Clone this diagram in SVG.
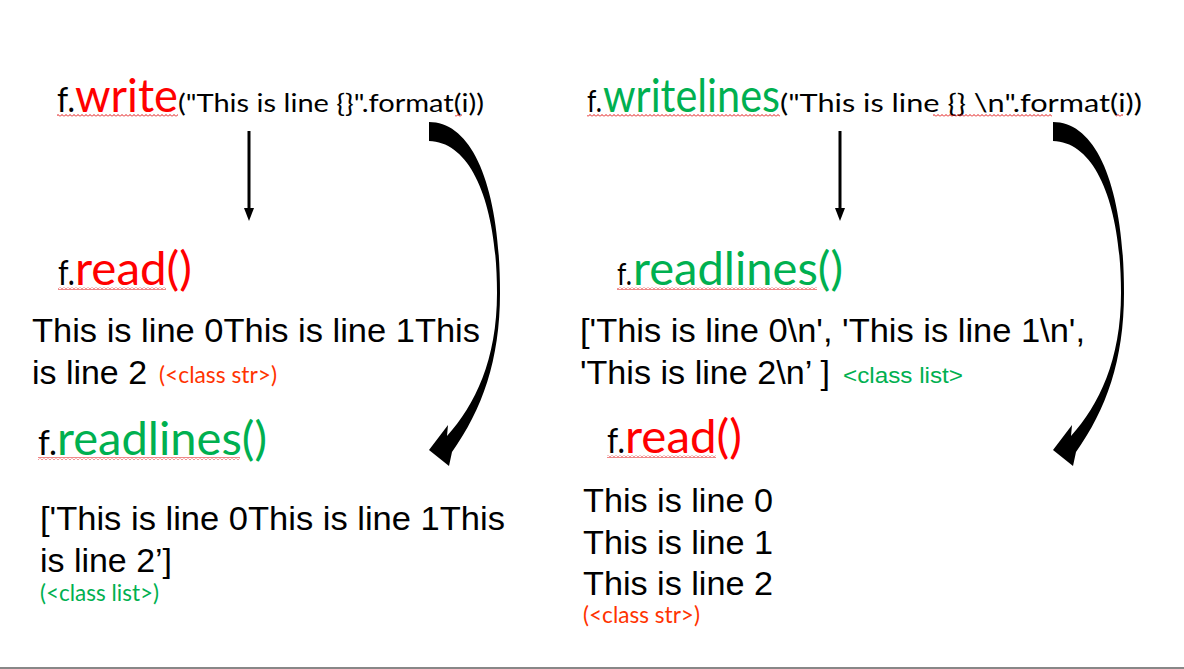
<svg xmlns="http://www.w3.org/2000/svg" width="1184" height="669" viewBox="0 0 1184 669">
<style>
.c{font-family:Lato,"Open Sans","Liberation Sans",sans-serif}
.a{font-family:"Liberation Sans",Arial,sans-serif;font-size:34px;fill:#000}
.f{font-size:34px;fill:#000}
.fs{font-size:31px;fill:#000}
.m{font-size:47px}
.s{font-size:25px;fill:#000}
.red{fill:#FF0000}
.grn{fill:#00B050}
.org{fill:#FF3300}
.lbl{font-size:23px}
.conn{stroke:#000;stroke-width:3;fill:none}
.head{fill:#000}
.curve{fill:#000}
</style>
<defs>
<pattern id="squig" x="0" y="0" width="4" height="3" patternUnits="userSpaceOnUse">
<path d="M0 2.5 L2 0.5 L4 2.5" stroke="#E01010" stroke-width="1" fill="none"/>
</pattern>
</defs>
<rect width="1184" height="669" fill="#fff"/>

<g id="write-left">
<text class="c" y="112"><tspan class="f" x="57" textLength="18" lengthAdjust="spacingAndGlyphs">f.</tspan><tspan class="m red" x="75" textLength="103" lengthAdjust="spacingAndGlyphs">write</tspan><tspan class="s" x="178" textLength="306" lengthAdjust="spacingAndGlyphs">("This is line {}".format(i))</tspan></text>
<rect x="57" y="114" width="121" height="3" fill="url(#squig)"/>
<rect x="455" y="114" width="7" height="3" fill="url(#squig)"/>
</g>

<g id="read-left">
<text class="c" y="285"><tspan class="f" x="58" textLength="17" lengthAdjust="spacingAndGlyphs">f.</tspan><tspan class="m red" x="75" textLength="117" lengthAdjust="spacingAndGlyphs">read()</tspan></text>
<rect x="58" y="287" width="108" height="3" fill="url(#squig)"/>
<text class="a" x="32" y="342" textLength="448" lengthAdjust="spacingAndGlyphs">This is line 0This is line 1This</text>
<text class="a" x="32" y="384" textLength="115" lengthAdjust="spacingAndGlyphs">is line 2</text>
<text class="c lbl org" x="159" y="383" textLength="118" lengthAdjust="spacingAndGlyphs">(&lt;class str&gt;)</text>
</g>

<g id="readlines-left">
<text class="c" y="455"><tspan class="f" x="38" textLength="19" lengthAdjust="spacingAndGlyphs">f.</tspan><tspan class="m grn" x="57" textLength="210" lengthAdjust="spacingAndGlyphs">readlines()</tspan></text>
<rect x="38" y="457" width="202" height="3" fill="url(#squig)"/>
<text class="a" x="40" y="530" textLength="465" lengthAdjust="spacingAndGlyphs">['This is line 0This is line 1This</text>
<text class="a" x="40" y="572" textLength="132" lengthAdjust="spacingAndGlyphs">is line 2’]</text>
<text class="c lbl grn" x="40" y="601" textLength="119" lengthAdjust="spacingAndGlyphs">(&lt;class list&gt;)</text>
</g>

<g id="writelines-right">
<text class="c" y="112"><tspan class="fs" x="587" textLength="15" lengthAdjust="spacingAndGlyphs">f.</tspan><tspan class="m grn" x="603" textLength="177" lengthAdjust="spacingAndGlyphs">writelines</tspan><tspan class="s" x="780" textLength="362" lengthAdjust="spacingAndGlyphs">("This is line {} \n".format(i))</tspan></text>
<rect x="587" y="114" width="193" height="3" fill="url(#squig)"/>
<rect x="933" y="114" width="119" height="3" fill="url(#squig)"/>
<rect x="1116" y="114" width="7" height="3" fill="url(#squig)"/>
</g>

<g id="readlines-right">
<text class="c" y="285"><tspan class="fs" x="617" textLength="15" lengthAdjust="spacingAndGlyphs">f.</tspan><tspan class="m grn" x="633" textLength="210" lengthAdjust="spacingAndGlyphs">readlines()</tspan></text>
<rect x="617" y="287" width="200" height="3" fill="url(#squig)"/>
<text class="a" x="580" y="342" textLength="505" lengthAdjust="spacingAndGlyphs">['This is line 0\n', 'This is line 1\n',</text>
<text class="a" x="580" y="384" textLength="250" lengthAdjust="spacingAndGlyphs">'This is line 2\n’ ]</text>
<text class="grn" style="font-family:'Liberation Sans',Arial,sans-serif;font-size:22px" x="843" y="383" textLength="120" lengthAdjust="spacingAndGlyphs">&lt;class list&gt;</text>
</g>

<g id="read-right">
<text class="c" y="453"><tspan class="f" x="607" textLength="18" lengthAdjust="spacingAndGlyphs">f.</tspan><tspan class="m red" x="625" textLength="117" lengthAdjust="spacingAndGlyphs">read()</tspan></text>
<rect x="607" y="455" width="109" height="3" fill="url(#squig)"/>
<text class="a" x="583" y="512" textLength="190" lengthAdjust="spacingAndGlyphs">This is line 0</text>
<text class="a" x="583" y="554" textLength="190" lengthAdjust="spacingAndGlyphs">This is line 1</text>
<text class="a" x="583" y="595" textLength="190" lengthAdjust="spacingAndGlyphs">This is line 2</text>
<text class="c lbl org" x="583" y="623" textLength="117" lengthAdjust="spacingAndGlyphs">(&lt;class str&gt;)</text>
</g>

<g id="connectors">
<line class="conn" x1="249" y1="131" x2="249" y2="210"/>
<polygon class="head" points="244,208 254,208 249,221"/>
<line class="conn" x1="840" y1="131" x2="840" y2="210"/>
<polygon class="head" points="835,208 845,208 840,221"/>
<path class="curve" d="M429,122 C472,122 500,185 500,293 C500,360 482,410 452,452 L449,466 L429,450 L448,425 L447,436 C475,405 497,360 497,293 C497,205 472,142 429,141 Z"/>
<path class="curve" transform="translate(624,0)" d="M429,122 C472,122 500,185 500,293 C500,360 482,410 452,452 L449,466 L429,450 L448,425 L447,436 C475,405 497,360 497,293 C497,205 472,142 429,141 Z"/>
</g>

<line x1="0" y1="668" x2="1184" y2="668" stroke="#888" stroke-width="2"/>
</svg>
